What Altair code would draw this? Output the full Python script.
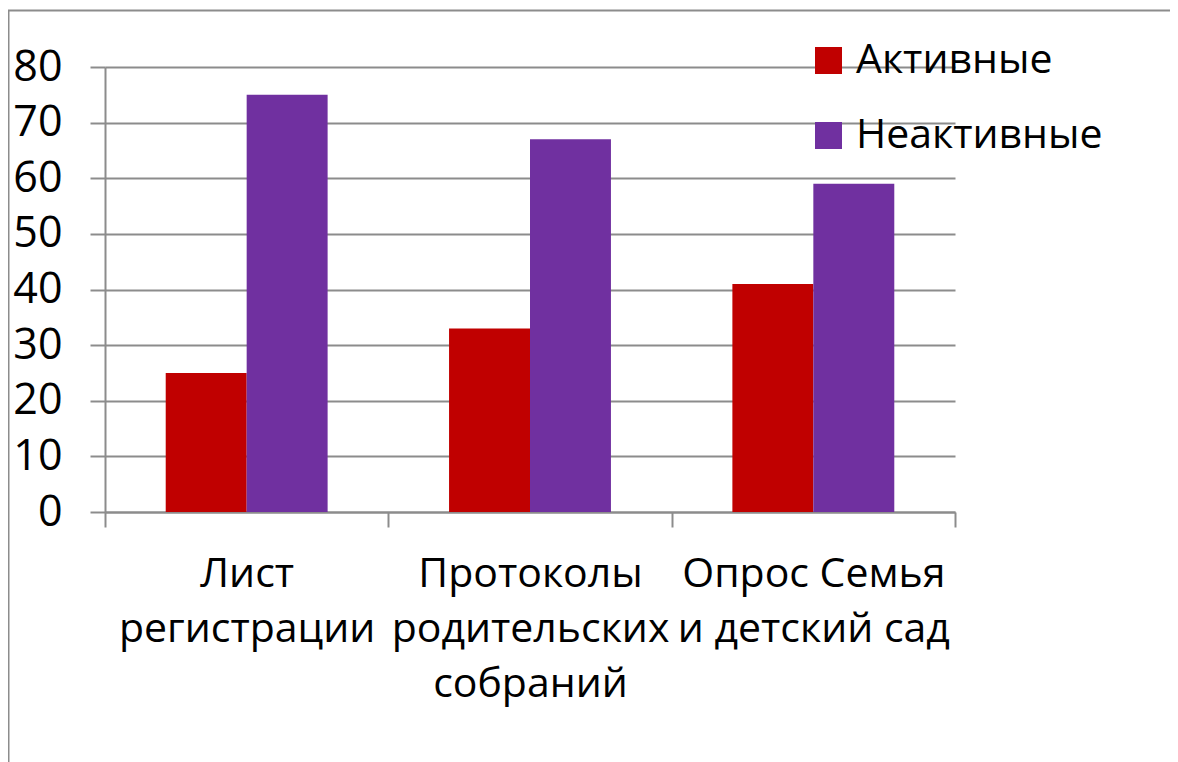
import altair as alt
import pandas as pd

categories = ["Лист|регистрации", "Протоколы|родительских|собраний", "Опрос Семья|и детский сад"]
series = ["Активные", "Неактивные"]
active = [25, 33, 41]
inactive = [75, 67, 59]
colors = ["#C00000", "#7030A0"]

rows = []
for c, a, n in zip(categories, active, inactive):
    rows.append({"cat": c, "series": series[0], "value": a})
    rows.append({"cat": c, "series": series[1], "value": n})
df = pd.DataFrame(rows)

FONT = "Open Sans"
GRID = "#8C8C8C"

bars = alt.Chart(df).mark_bar().encode(
    x=alt.X("cat:N", sort=categories, title=None,
            scale=alt.Scale(paddingInner=0, paddingOuter=0),
            axis=alt.Axis(labelAngle=0, labelExpr="split(datum.label, '|')",
                          labelFont=FONT, labelFontSize=41, labelColor="#000000",
                          labelLineHeight=55, labelPadding=27, labelBaseline="top",
                          labelLimit=0,
                          tickBand="extent", tickSize=15, tickColor=GRID, tickWidth=2,
                          domainColor=GRID, domainWidth=2, grid=False)),
    xOffset=alt.XOffset("series:N", sort=series,
                        scale=alt.Scale(paddingInner=0, paddingOuter=0.75)),
    y=alt.Y("value:Q", title=None,
            scale=alt.Scale(domain=[0, 80], nice=False),
            axis=alt.Axis(values=list(range(0, 81, 10)), labelFont=FONT, labelFontSize=43,
                          labelColor="#000000", labelPadding=28,
                          tickSize=15, tickColor=GRID, tickWidth=2,
                          domainColor=GRID, domainWidth=2,
                          grid=True, gridColor=GRID, gridWidth=2)),
    color=alt.Color("series:N", sort=series,
                    scale=alt.Scale(domain=series, range=colors),
                    legend=alt.Legend(title=None, orient="none", legendX=703, legendY=-27,
                                      symbolType="square", symbolSize=730,
                                      symbolStrokeWidth=0, labelFont=FONT,
                                      labelFontSize=41, labelColor="#000000",
                                      rowPadding=33, labelOffset=7,
                                      labelLimit=400)),
)

frame_df = pd.DataFrame({"k": [0]})
top_line = alt.Chart(frame_df).mark_rule(color="#8C8C8C", strokeWidth=2).encode(
    x=alt.value(-97), x2=alt.value(1080), y=alt.value(-56.5))
left_line = alt.Chart(frame_df).mark_rule(color="#8C8C8C", strokeWidth=2).encode(
    x=alt.value(-96.5), y=alt.value(-57), y2=alt.value(720))

chart = alt.layer(bars, top_line, left_line).properties(
    width=850, height=445,
    padding={"left": 97, "top": 59, "right": 215, "bottom": 260},
    autosize=alt.AutoSizeParams(type="none"),
).configure_view(stroke=None)

chart.save("out.html", embed_options={"renderer": "svg", "actions": False})
